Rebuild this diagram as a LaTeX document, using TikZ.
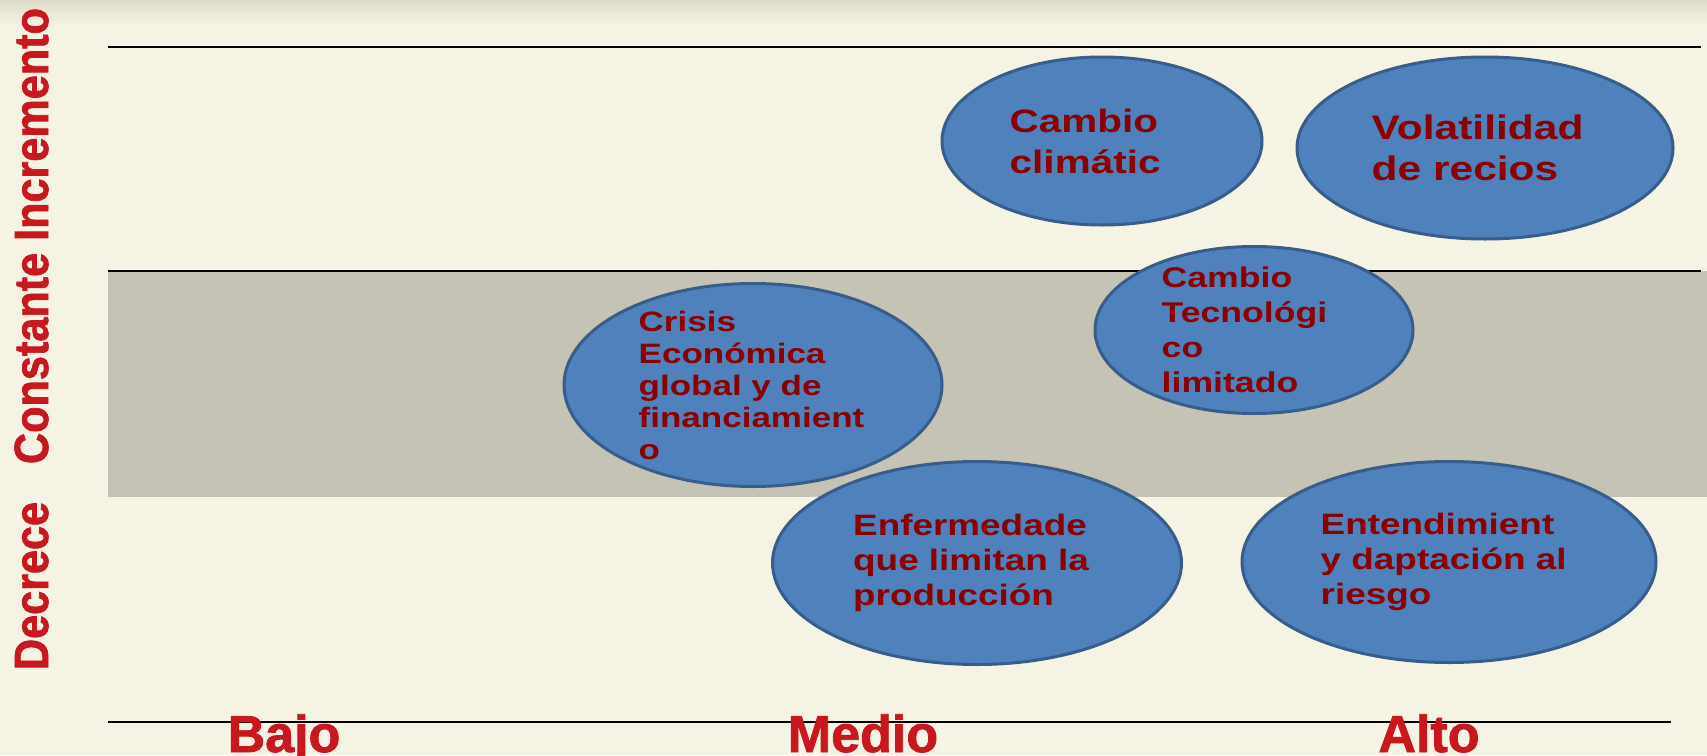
\documentclass[tikz,border=0pt]{standalone}
\usepackage{fontspec}
\setmainfont{Liberation Sans}
\newfontfamily\bubblefont[FakeStretch=1.25]{Liberation Sans}
\newfontfamily\axisfont[FakeStretch=0.9, FakeBold=1.5]{Liberation Sans}
\newfontfamily\levelfont[FakeBold=1.5]{Liberation Sans}
\usetikzlibrary{shapes.geometric,positioning}

\definecolor{bgcream}{RGB}{245,244,228}
\definecolor{topshade}{RGB}{222,220,200}
\definecolor{bandgray}{RGB}{196,195,181}
\definecolor{bubblefill}{RGB}{79,129,189}
\definecolor{bubbleedge}{RGB}{56,93,138}
\definecolor{textred}{RGB}{139,0,0}
\definecolor{axisred}{RGB}{200,24,30}

\begin{document}
\begin{tikzpicture}[x=1pt, y=-1pt,
    bubble/.style = {draw=bubbleedge, fill=bubblefill, line width=3pt, ellipse, inner sep=0pt},
    txt/.style = {text=textred, align=left, inner sep=0pt, anchor=west},
    axis/.style = {text=axisred, inner sep=0pt, anchor=base},
    rule/.style = {line width=2.5pt, black}]

            % background
            \useasboundingbox[fill=bgcream] (0,0) rectangle (1707,755);
            \shade[top color=topshade, bottom color=bgcream] (0,0) rectangle (1707,25);
            \fill[bandgray] (108,271) rectangle (1707,497);

            \coordinate (T1) at (108,47);
            \coordinate (T2) at (1701,47);
            \coordinate (M1) at (108,271);
            \coordinate (M2) at (1701,271);
            \coordinate (B1) at (108,722);
            \coordinate (B2) at (1671,722);
            \draw[rule] (T1) -- (T2);
            \draw[rule] (M1) -- (M2);
            \draw[rule] (B1) -- (B2);

            %top row

            \node[bubble, minimum width=320pt, minimum height=168pt] (CC) at (1102,141) {};
            \node[txt, font=\bubblefont\bfseries\fontsize{32.4}{41}\selectfont] (CCt) at (CC.west) [xshift=69pt] {Cambio\\climátic};
            \node[bubble, minimum width=376pt, minimum height=182pt] (VP) at (1485,148) {};
            \node[txt, font=\bubblefont\bfseries\fontsize{34}{41}\selectfont] (VPt) at (VP.west) [xshift=76pt] {Volatilidad\\de recios};

            %middle band

            \node[bubble, minimum width=378pt, minimum height=203pt] (CE) at (753,385) {};
            \node[txt, font=\bubblefont\bfseries\fontsize{28}{32}\selectfont] (CEt) at (CE.west) [xshift=76pt] {Crisis\\Económica\\global y de\\financiamient\\o};
            \node[bubble, minimum width=318pt, minimum height=167pt] (CT) at (1254,330) {};
            \node[txt, font=\bubblefont\bfseries\fontsize{28.5}{35}\selectfont] (CTt) at (CT.west) [xshift=68pt] {Cambio\\Tecnológi\\co\\limitado};

            %bottom row

            \node[bubble, minimum width=409pt, minimum height=203pt] (EP) at (977,563) {};
            \node[txt, font=\bubblefont\bfseries\fontsize{29.5}{35}\selectfont] (EPt) at (EP.west) [xshift=82pt] {Enfermedade\\que limitan la\\producción};
            \node[bubble, minimum width=414pt, minimum height=201pt] (ER) at (1449,562) {};
            \node[txt, font=\bubblefont\bfseries\fontsize{29.5}{35}\selectfont] (ERt) at (ER.west) [xshift=80pt] {Entendimient\\y daptación al\\riesgo};

            %axes

            \node[axis, rotate=90, font=\axisfont\bfseries\fontsize{48}{48}\selectfont] (INC) at (48,236) {Constante Incremento};
            \node[axis, rotate=90, font=\axisfont\bfseries\fontsize{48}{48}\selectfont] (DEC) at (48,586) {Decrece};
            \node[axis, font=\levelfont\bfseries\fontsize{52}{52}\selectfont] (BAJO) at (284,752) {Bajo};
            \node[axis, font=\levelfont\bfseries\fontsize{52}{52}\selectfont] (MEDIO) at (863,752) {Medio};
            \node[axis, font=\levelfont\bfseries\fontsize{52}{52}\selectfont] (ALTO) at (1429,752) {Alto};
        \end{tikzpicture}
\end{document}
